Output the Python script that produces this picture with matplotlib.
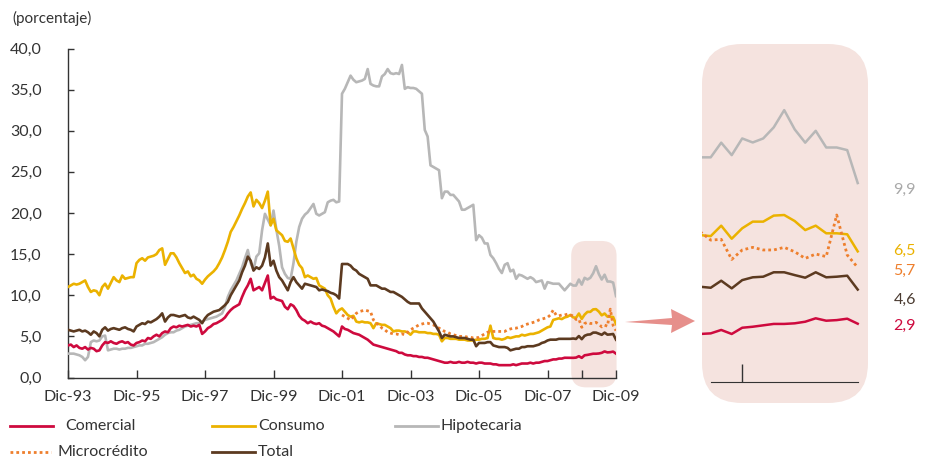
import numpy as np
import matplotlib
matplotlib.use("Agg")
import matplotlib.pyplot as plt
from matplotlib.patches import FancyBboxPatch, Polygon
from matplotlib.lines import Line2D

plt.rcParams['font.family'] = ['Liberation Sans Narrow', 'Lato', 'DejaVu Sans']

# monthly data: first value is Dic-93, then Ene..Dic for 1994..2009
comercial = [3.9,
    4.0, 3.7, 3.9, 3.6, 3.5, 3.7, 3.4, 3.6, 3.5, 3.2, 3.3, 3.9,          # 1994
    4.3, 4.2, 4.4, 4.2, 4.1, 4.3, 4.4, 4.2, 4.3, 4.0, 3.9, 4.2,          # 1995
    4.3, 4.5, 4.4, 4.8, 4.7, 5.0, 5.2, 5.0, 5.4, 5.6, 5.5, 6.0,          # 1996
    6.2, 6.1, 6.3, 6.2, 6.3, 6.4, 6.2, 6.3, 6.2, 6.4, 5.3, 5.6,          # 1997
    6.0, 6.2, 6.5, 6.6, 6.8, 7.0, 7.3, 7.8, 8.2, 8.5, 8.7, 8.9,          # 1998
    9.8, 10.6, 11.2, 12.0, 10.6, 10.8, 11.0, 10.6, 11.5, 12.4, 9.6, 9.8, # 1999
    9.5, 9.4, 9.3, 8.6, 8.3, 8.9, 8.7, 8.2, 7.5, 7.1, 6.9, 6.6,          # 2000
    6.8, 6.6, 6.5, 6.6, 6.3, 6.2, 6.0, 5.8, 5.6, 5.3, 5.0, 6.2,          # 2001
    5.9, 5.8, 5.6, 5.4, 5.3, 5.2, 5.0, 4.8, 4.6, 4.3, 4.0, 3.9,          # 2002
    3.8, 3.7, 3.6, 3.5, 3.4, 3.3, 3.2, 3.0, 3.0, 2.8, 2.7, 2.7,          # 2003
    2.6, 2.6, 2.5, 2.5, 2.4, 2.4, 2.3, 2.2, 2.1, 2.0, 1.9, 1.8,          # 2004
    1.8, 1.9, 1.8, 1.8, 1.9, 1.8, 1.8, 1.9, 1.8, 1.8, 1.7, 1.8,          # 2005
    1.8, 1.7, 1.7, 1.7, 1.6, 1.6, 1.5, 1.5, 1.5, 1.5, 1.5, 1.6,          # 2006
    1.5, 1.6, 1.7, 1.7, 1.7, 1.8, 1.7, 1.8, 1.8, 1.9, 2.0, 2.0,          # 2007
    2.1, 2.2, 2.2, 2.3, 2.3, 2.4, 2.4, 2.4, 2.39, 2.42, 2.59, 2.39,      # 2008
    2.70, 2.75, 2.82, 2.89, 2.89, 2.92, 3.00, 3.17, 3.05, 3.08, 3.15, 2.9]  # 2009

consumo = [11.0,
    11.2, 11.4, 11.3, 11.4, 11.6, 11.8, 11.0, 10.4, 10.6, 10.5, 10.0, 11.0,
    11.4, 10.8, 11.5, 12.2, 11.8, 11.6, 12.4, 12.0, 12.1, 12.2, 12.2, 13.9,
    14.3, 14.5, 14.2, 14.6, 14.7, 14.8, 15.0, 15.5, 15.7, 13.7, 14.4, 15.1,
    15.1, 14.6, 13.9, 13.3, 12.7, 12.9, 12.3, 12.5, 12.0, 11.8, 11.4, 11.9,
    12.3, 12.6, 12.9, 13.3, 13.9, 14.6, 15.5, 16.5, 17.7, 18.3, 19.0, 19.7,
    20.5, 21.2, 22.0, 22.5, 20.8, 21.6, 21.2, 20.6, 21.5, 22.6, 18.5, 19.3,
    17.9, 17.6, 17.3, 16.6, 16.5, 16.9, 15.7, 14.5, 13.7, 13.3, 12.2, 12.4,
    12.2, 12.0, 12.1, 11.2, 11.0, 10.8, 10.0, 9.6, 8.6, 7.8, 8.2, 8.4,
    8.0, 7.6, 7.4, 7.5, 6.8, 6.7, 6.8, 6.7, 6.7, 6.6, 6.0, 6.6,
    6.5, 6.4, 6.4, 6.2, 6.0, 5.6, 5.7, 5.7, 5.6, 5.6, 5.5, 5.2,
    5.6, 5.6, 5.5, 5.5, 5.5, 5.4, 5.4, 5.3, 5.3, 5.2, 4.4, 4.8,
    4.8, 4.7, 4.7, 4.7, 4.6, 4.6, 4.6, 4.5, 4.5, 4.5, 4.6, 4.6,
    4.7, 4.7, 4.8, 6.3, 4.8, 4.7, 4.7, 4.6, 4.7, 4.9, 4.8, 4.9,
    5.0, 5.0, 5.2, 5.1, 5.2, 5.3, 5.3, 5.4, 5.5, 5.7, 5.9, 6.1,
    6.2, 7.0, 7.1, 7.2, 7.1, 7.3, 7.4, 7.6, 7.31, 7.26, 7.78, 7.13,
    7.65, 7.98, 7.98, 8.28, 8.31, 8.01, 7.56, 7.78, 7.40, 7.40, 7.35, 6.5]

hipotecaria = [2.9,
    2.9, 2.9, 2.8, 2.7, 2.5, 2.1, 2.5, 4.3, 4.5, 4.4, 4.5, 5.0,
    5.1, 3.3, 3.4, 3.5, 3.5, 3.4, 3.5, 3.5, 3.6, 3.6, 3.7, 3.8,
    3.9, 3.9, 4.1, 4.1, 4.2, 4.3, 4.5, 4.7, 4.9, 5.2, 5.4, 5.5,
    5.5, 5.7, 5.8, 6.0, 6.2, 6.3, 6.4, 6.5, 6.6, 6.6, 6.8, 7.0,
    7.1, 7.2, 7.3, 7.4, 7.6, 7.8, 8.6, 9.8, 10.6, 11.2, 11.8, 12.6,
    13.4, 14.5, 15.5, 13.9, 13.1, 14.7, 15.1, 17.9, 19.9, 19.2, 18.5, 20.3,
    18.0, 16.0, 13.4, 12.6, 12.1, 12.0, 13.9, 16.5, 18.3, 19.3, 19.8, 20.1,
    20.6, 21.1, 19.9, 19.7, 19.9, 20.1, 21.3, 21.5, 21.6, 21.3, 21.4, 34.5,
    35.1, 35.9, 36.7, 36.2, 35.9, 36.0, 36.1, 36.3, 37.5, 35.7, 35.5, 35.4,
    35.4, 36.6, 36.9, 37.5, 37.0, 36.9, 37.0, 36.9, 38.0, 35.1, 35.3, 35.2,
    35.2, 35.1, 34.8, 34.5, 30.1, 29.3, 25.8, 25.6, 25.4, 25.2, 21.8, 22.6,
    22.6, 22.2, 22.2, 21.8, 21.4, 20.4, 20.4, 20.6, 20.8, 21.0, 16.7, 17.3,
    17.0, 16.3, 16.3, 14.9, 14.5, 13.9, 13.2, 12.7, 13.7, 13.9, 12.9, 13.1,
    12.0, 12.5, 12.4, 12.2, 12.0, 12.2, 12.0, 11.6, 11.7, 11.8, 10.8, 11.6,
    11.5, 11.4, 11.4, 11.4, 11.0, 10.6, 11.0, 11.4, 11.18, 11.18, 11.91, 11.29,
    12.12, 11.92, 12.12, 12.67, 13.53, 12.57, 11.91, 12.50, 11.67, 11.67, 11.54, 9.9]

# microcredito starts Dic-01
micro_start = 96
microcredito = [7.6,
    7.4, 7.2, 7.0, 7.4, 7.8, 8.0, 8.1, 8.2, 8.1, 8.0, 7.0, 6.6,
    6.4, 6.0, 5.8, 5.5, 5.4, 5.3, 5.3, 5.2, 5.3, 5.2, 5.5, 5.8,
    6.0, 6.2, 6.4, 6.5, 6.6, 6.6, 6.5, 6.4, 6.2, 6.0, 5.8, 5.6,
    5.5, 5.3, 5.2, 5.1, 5.0, 5.0, 5.0, 4.9, 4.9, 4.8, 4.8, 4.9,
    5.1, 5.3, 5.5, 5.6, 5.6, 5.6, 5.6, 5.6, 5.6, 5.8, 5.9, 6.0,
    6.0, 6.1, 6.2, 6.4, 6.5, 6.6, 6.7, 6.8, 7.0, 7.1, 7.2, 7.3,
    7.6, 8.2, 7.6, 7.5, 7.6, 7.6, 7.7, 7.6, 7.48, 7.06, 7.10, 6.10,
    6.57, 6.70, 6.57, 6.57, 6.70, 6.48, 6.15, 6.37, 6.24, 8.31, 6.32, 5.7]

total = [5.8,
    5.7, 5.6, 5.7, 5.8, 5.6, 5.7, 5.5, 5.2, 5.6, 5.4, 5.0, 5.8,
    6.1, 5.7, 5.9, 6.0, 5.9, 5.8, 6.0, 6.1, 5.9, 5.8, 5.6, 6.2,
    6.4, 6.6, 6.5, 6.8, 6.7, 6.9, 7.1, 7.4, 7.8, 6.8, 7.3, 7.6,
    7.6, 7.5, 7.4, 7.5, 7.6, 7.3, 7.2, 7.4, 7.2, 7.0, 6.6, 7.2,
    7.6, 7.8, 8.0, 8.1, 8.2, 8.5, 8.8, 9.2, 10.0, 10.6, 11.2, 11.8,
    12.8, 13.6, 14.7, 14.2, 13.0, 13.4, 13.2, 13.6, 14.6, 16.3, 13.6, 14.2,
    13.0, 12.2, 11.8, 11.2, 10.6, 11.6, 12.2, 11.6, 11.2, 10.8, 11.4, 11.3,
    11.2, 11.1, 11.0, 10.6, 10.7, 10.6, 10.5, 10.3, 10.2, 10.0, 9.6, 13.8,
    13.8, 13.8, 13.6, 13.2, 13.0, 12.6, 12.4, 12.2, 12.0, 11.2, 11.2, 11.2,
    11.0, 10.8, 10.8, 10.6, 10.4, 10.4, 10.2, 10.0, 9.8, 9.5, 9.2, 9.0,
    9.0, 9.0, 9.0, 8.4, 8.0, 7.6, 7.2, 6.8, 6.2, 5.6, 4.8, 5.2,
    5.1, 5.0, 5.0, 4.9, 4.8, 4.8, 4.8, 4.7, 4.6, 4.6, 3.8, 4.2,
    4.2, 4.2, 4.3, 4.3, 3.9, 3.8, 3.7, 3.7, 3.7, 3.6, 3.3, 3.4,
    3.5, 3.5, 3.7, 3.7, 3.8, 3.8, 3.8, 3.9, 4.0, 4.2, 4.3, 4.5,
    4.6, 4.6, 4.6, 4.7, 4.7, 4.7, 4.7, 4.7, 4.74, 4.69, 5.04, 4.66,
    5.07, 5.21, 5.24, 5.46, 5.46, 5.32, 5.19, 5.46, 5.21, 5.24, 5.29, 4.6]

xtick_labels = ["Dic-93", "Dic-95", "Dic-97", "Dic-99", "Dic-01", "Dic-03", "Dic-05", "Dic-07", "Dic-09"]
end_labels = ["9,9", "6,5", "5,7", "4,6", "2,9"]
inset_months = 16   # Sep-08 .. Dic-09

c_com, c_con, c_hip, c_mic, c_tot = "#CE0A3E", "#EBB200", "#B7B7B7", "#EE7F2D", "#5C3A20"
pink = "#F5E3DF"
txt = "#333333"

W, H = 926, 462
fig = plt.figure(figsize=(W / 100, H / 100), dpi=100)


def pill(x0, y0, x1, y1, r, color):
    # rounded box given in pixels (origin top-left)
    p = FancyBboxPatch((x0 / W, 1 - y1 / H), (x1 - x0) / W, (y1 - y0) / H,
                       boxstyle=f"round,pad=0,rounding_size={r / W}",
                       mutation_aspect=W / H, transform=fig.transFigure,
                       fc=color, ec="none", zorder=-1)
    fig.add_artist(p)


# ---- main chart ----
ax = fig.add_axes([68 / W, 1 - 377.5 / H, 548 / W, 329 / H])
ax.patch.set_visible(False)
m = np.arange(len(comercial))
mm = np.arange(micro_start, micro_start + len(microcredito))

lw = 1.9
ax.plot(m, hipotecaria, color=c_hip, lw=lw, zorder=3)
ax.plot(m, consumo, color=c_con, lw=lw, zorder=3)
ax.plot(mm, microcredito, color=c_mic, lw=2.0, ls=(0, (1, 1.1)), zorder=4)
ax.plot(m, total, color=c_tot, lw=lw, zorder=5)
ax.plot(m, comercial, color=c_com, lw=lw, zorder=6)

ax.set_xlim(0, 192)
ax.set_ylim(0, 40)
ax.set_xticks(np.arange(0, 193, 24))
ax.set_xticklabels(xtick_labels)
ax.set_xticks([180], minor=True)
ax.set_yticks(np.arange(0, 41, 5))
ax.set_yticklabels([f"{v:.1f}".replace(".", ",") for v in np.arange(0, 41, 5)])
for s in ["top", "right"]:
    ax.spines[s].set_visible(False)
for s in ["left", "bottom"]:
    ax.spines[s].set_color(txt)
    ax.spines[s].set_linewidth(1.0)
ax.tick_params(axis="y", direction="in", length=4, width=1, color=txt,
               labelsize=11.5, labelcolor=txt, pad=19)
ax.tick_params(axis="x", which="both", direction="in", length=6, width=1, color=txt,
               labelsize=11.5, labelcolor=txt, pad=9)

# highlight of the last months, in data coordinates
fig.canvas.draw()
(hx0, hy0), (hx1, hy1) = ax.transData.transform([(176.3, -1.2), (192.2, 16.6)])
pill(hx0, H - hy1, hx1, H - hy0, 15, pink)

fig.text(12 / W, 1 - 18 / H, "(porcentaje)", fontsize=11, color=txt, ha="left", va="center")

# ---- arrow ----
arrow = Polygon([(625, 322), (672, 318), (671, 309), (695, 321), (671, 333), (672, 325)],
                closed=True, fc="#E4837E", ec="none", alpha=0.9,
                transform=matplotlib.transforms.Affine2D().scale(1 / W, -1 / H).translate(0, 1) + fig.transFigure)
fig.add_artist(arrow)

# ---- zoomed inset ----
pill(702, 44, 868, 403, 40, pink)
ai = fig.add_axes([702 / W, 1 - 403 / H, 166 / W, 359 / H])
ai.patch.set_visible(False)
xi = np.arange(inset_months)
ai.plot(xi, hipotecaria[-inset_months:], color=c_hip, lw=1.8)
ai.plot(xi, consumo[-inset_months:], color=c_con, lw=1.8)
ai.plot(xi, microcredito[-inset_months:], color=c_mic, lw=2.0, ls=(0, (1, 1.1)))
ai.plot(xi, total[-inset_months:], color=c_tot, lw=1.8)
ai.plot(xi, comercial[-inset_months:], color=c_com, lw=1.8)
ai.set_xlim(0.17, 15.98)
ai.set_ylim(-1.045, 16.82)
for s in ["top", "right", "left"]:
    ai.spines[s].set_visible(False)
ai.spines["bottom"].set_position(("data", 0))
ai.spines["bottom"].set_bounds(1, 15)
ai.spines["bottom"].set_color(txt)
ai.set_yticks([])
ai.set_xticks([4])
ai.set_xticklabels([])
ai.tick_params(axis="x", direction="in", length=13, width=1, color=txt)

lab_y = [9.55, 6.5, 5.55, 4.1, 2.8]
lab_c = ["#A9A9A9", c_con, c_mic, "#4A3A30", c_com]
for t, yv, c in zip(end_labels, lab_y, lab_c):
    ai.text(18.4, yv, t, color=c, fontsize=11.5, ha="left", va="center", clip_on=False)

# ---- legend ----
leg = [("Comercial", c_com, "-", 10, 53, 426, 65),
       ("Consumo", c_con, "-", 212, 255, 426, 258),
       ("Hipotecaria", c_hip, "-", 395, 438, 426, 441),
       ("Microcrédito", c_mic, (0, (1, 1.1)), 10, 51, 452, 58),
       ("Total", c_tot, "-", 212, 255, 452, 258)]
for name, c, ls, lx0, lx1, ly, tx in leg:
    fig.add_artist(Line2D([lx0 / W, lx1 / W], [1 - ly / H, 1 - ly / H], color=c, lw=2.0, ls=ls,
                          transform=fig.transFigure))
    fig.text(tx / W, 1 - ly / H, name, fontsize=11.5, color=txt, ha="left", va="center")

fig.savefig("out.png", dpi=100)
